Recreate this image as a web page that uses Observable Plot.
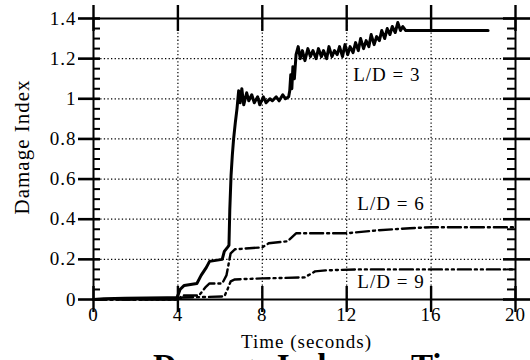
<!DOCTYPE html>
<html>
<head>
<meta charset="utf-8">
<script src="https://cdn.jsdelivr.net/npm/d3@7"></script>
<script src="https://cdn.jsdelivr.net/npm/@observablehq/plot@0.6"></script>
<style>
  html, body { margin: 0; padding: 0; background: #fff; width: 530px; height: 360px; overflow: hidden; }
  #chart { position: relative; width: 530px; height: 360px; }
  #title {
    position: absolute; left: 153px; top: 348px; white-space: nowrap;
    font: bold 33px "Liberation Serif", "Times New Roman", serif; color: #000;
  }
</style>
</head>
<body>
<div id="chart"><div id="title">Damage Index vs. Time</div></div>
<script>
// Damage index histories [time (s), index] for three aspect ratios
const ld3 = [
  [0, 0], [0.5, 0.004], [1.5, 0.006], [2.5, 0.008], [3.5, 0.009], [3.95, 0.01],
  [4.0, 0.02], [4.1, 0.05], [4.3, 0.07], [4.9, 0.08], [5.1, 0.12], [5.35, 0.16],
  [5.5, 0.19], [6.1, 0.2], [6.2, 0.24], [6.35, 0.26], [6.42, 0.27], [6.46, 0.45],
  [6.52, 0.62], [6.58, 0.72], [6.64, 0.8], [6.72, 0.88], [6.8, 0.95], [6.88, 1.04],
  [6.95, 0.98], [7.03, 1.05], [7.12, 0.97], [7.26, 1.03], [7.36, 0.99], [7.5, 1.02],
  [7.62, 0.98], [7.78, 1.01], [7.88, 0.97], [8.05, 1.01], [8.18, 0.98], [8.36, 1.0],
  [8.48, 0.99], [8.66, 1.01], [8.8, 0.99], [8.97, 1.02], [9.1, 1.0], [9.25, 1.01],
  [9.3, 1.04], [9.35, 1.12], [9.4, 1.05], [9.45, 1.16], [9.52, 1.1], [9.6, 1.22],
  [9.7, 1.26], [9.8, 1.2], [9.9, 1.24], [10.02, 1.19], [10.16, 1.25], [10.28, 1.21],
  [10.4, 1.24], [10.55, 1.2], [10.66, 1.25], [10.8, 1.21], [10.9, 1.24], [11.05, 1.2],
  [11.16, 1.26], [11.3, 1.21], [11.42, 1.24], [11.55, 1.22], [11.66, 1.26], [11.8, 1.21],
  [11.92, 1.27], [12.05, 1.22], [12.16, 1.26], [12.3, 1.23], [12.42, 1.28], [12.55, 1.24],
  [12.66, 1.3], [12.8, 1.25], [12.92, 1.29], [13.05, 1.26], [13.16, 1.32], [13.3, 1.27],
  [13.42, 1.31], [13.55, 1.29], [13.66, 1.34], [13.8, 1.3], [13.92, 1.35], [14.05, 1.32],
  [14.16, 1.36], [14.3, 1.33], [14.42, 1.38], [14.55, 1.34], [14.66, 1.36], [14.8, 1.34],
  [18.7, 1.34]
];
const ld6 = [
  [0, 0], [4.0, 0.0], [4.2, 0.02], [5.0, 0.02], [5.3, 0.06], [5.5, 0.08], [6.1, 0.08],
  [6.3, 0.12], [6.5, 0.23], [6.7, 0.25], [8.0, 0.26], [8.3, 0.28], [9.2, 0.29],
  [9.6, 0.33], [12.0, 0.33], [13.5, 0.345], [15.0, 0.355], [16.0, 0.36], [20, 0.36]
];
const ld9 = [
  [0, 0], [4.0, 0.0], [4.2, 0.01], [6.2, 0.015], [6.35, 0.05], [6.5, 0.09], [6.7, 0.1],
  [8.0, 0.105], [10.0, 0.11], [10.5, 0.14], [11.0, 0.145], [12.5, 0.15], [20, 0.15]
];

// Curve labels
const curveNames = ["L/D = 3", "L/D = 6", "L/D = 9"];
const curveLabelTime = [13.9, 14.1, 14.1];
const curveLabelDamage = [1.12, 0.478, 0.09];

// Axis ticks
const xTicks = [0, 4, 8, 12, 16, 20];
const xTickLabels = ["0", "4", "8", "12", "16", "20"];
const xGrid = [4, 8, 12, 16];
const yTicks = [0, 0.2, 0.4, 0.6, 0.8, 1, 1.2, 1.4];
const yTickLabels = ["0", "0.2", "0.4", "0.6", "0.8", "1", "1.2", "1.4"];
const yGrid = [0.2, 0.4, 0.6, 0.8, 1, 1.2];
const yMinorTicks = [0.05, 0.1, 0.15, 0.25, 0.3, 0.35, 0.45, 0.5, 0.55, 0.65, 0.7, 0.75,
  0.85, 0.9, 0.95, 1.05, 1.1, 1.15, 1.25, 1.3, 1.35];

const xLabel = "Time (seconds)";
const yLabel = "Damage Index";

// Layout of the plot area
const W = 530, H = 360;
const mL = 93, mR = 15, mT = 18, mB = 61;
const frameW = W - mL - mR, frameH = H - mT - mB;

const serif = '"Liberation Serif", "Times New Roman", serif';
const dotted = { stroke: "black", strokeOpacity: 1, strokeWidth: 1.2, strokeDasharray: "1.3,2.3" };
const tick = { stroke: "black", strokeWidth: 2.4 };

const chart = Plot.plot({
  width: W,
  height: H,
  marginLeft: mL,
  marginRight: mR,
  marginTop: mT,
  marginBottom: mB,
  x: { domain: [0, 20], label: null },
  y: { domain: [0, 1.4], label: null },
  style: { fontFamily: serif, fontSize: "19px", color: "black", background: "white", letterSpacing: "1px" },
  marks: [
    Plot.gridX(xGrid, dotted),
    Plot.gridY(yGrid, dotted),
    Plot.line(ld9, { x: d => d[0], y: d => d[1], stroke: "black", strokeWidth: 2.4, strokeDasharray: "13,4,2,4,2,4" }),
    Plot.line(ld6, { x: d => d[0], y: d => d[1], stroke: "black", strokeWidth: 2.4, strokeDasharray: "13,4,2,4" }),
    Plot.line(ld3, { x: d => d[0], y: d => d[1], stroke: "black", strokeWidth: 3 }),
    Plot.frame({ stroke: "black", strokeWidth: 2 }),
    // major ticks crossing the bottom and top edges
    Plot.tickX(xTicks, { x: d => d, insetTop: frameH - 13, insetBottom: -13, ...tick }),
    Plot.tickX(xTicks, { x: d => d, insetTop: -13, insetBottom: frameH - 13, ...tick }),
    // major ticks crossing the left and right edges
    Plot.tickY(yTicks, { y: d => d, insetLeft: -15, insetRight: frameW - 7, ...tick, strokeWidth: 2.6 }),
    Plot.tickY(yTicks, { y: d => d, insetLeft: frameW - 12, insetRight: -15, ...tick, strokeWidth: 2.6 }),
    // minor ticks inside the left and right edges
    Plot.tickY(yMinorTicks, { y: d => d, insetLeft: 0, insetRight: frameW - 7, stroke: "black", strokeWidth: 2 }),
    Plot.tickY(yMinorTicks, { y: d => d, insetLeft: frameW - 8, insetRight: 0, stroke: "black", strokeWidth: 2 }),
    // tick labels
    Plot.axisX(xTicks, { anchor: "bottom", tickSize: 0, tickPadding: 8, stroke: "none", label: null,
      tickFormat: (d, i) => xTickLabels[i] }),
    Plot.axisY(yTicks, { anchor: "left", tickSize: 0, tickPadding: 17, stroke: "none", label: null,
      tickFormat: (d, i) => yTickLabels[i] }),
    // axis titles
    Plot.text([xLabel], { text: d => d, frameAnchor: "bottom", textAnchor: "middle", lineAnchor: "middle",
      dx: 2, dy: 42, fontSize: 19 }),
    Plot.text([yLabel], { text: d => d, frameAnchor: "left", textAnchor: "middle", lineAnchor: "middle",
      rotate: -90, dx: -71, dy: -12, fontSize: 21 }),
    // curve labels
    Plot.text(curveNames, { x: (d, i) => curveLabelTime[i], y: (d, i) => curveLabelDamage[i], text: d => d, fontSize: 19 })
  ]
});

document.getElementById("chart").prepend(chart);
</script>
</body>
</html>
